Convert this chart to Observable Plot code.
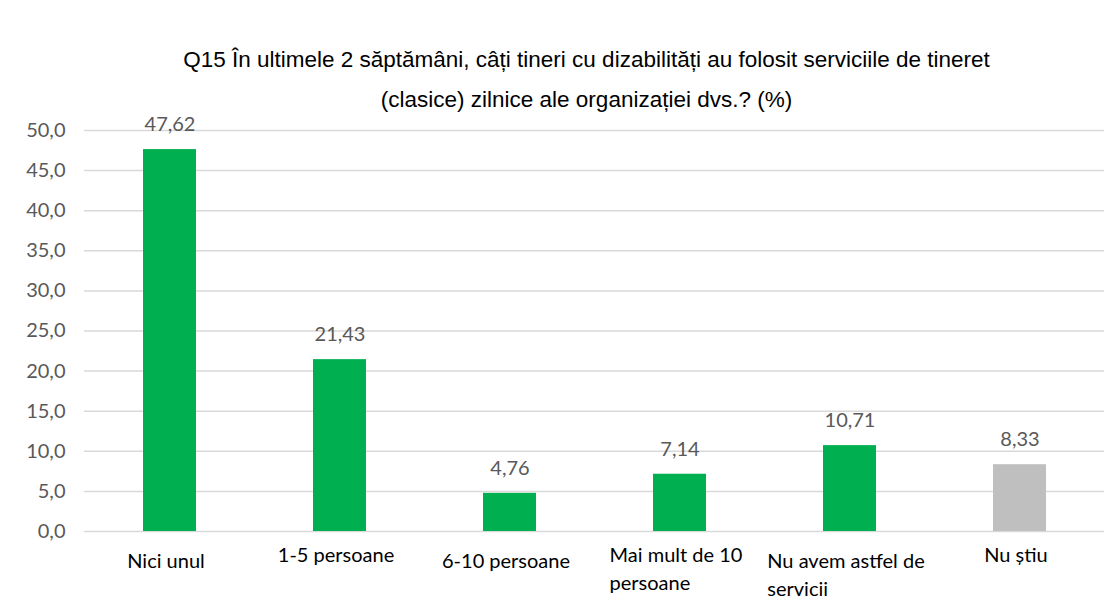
<!DOCTYPE html>
<html>
<head>
<meta charset="utf-8">
<script src="https://cdn.jsdelivr.net/npm/d3@7"></script>
<script src="https://cdn.jsdelivr.net/npm/@observablehq/plot@0.6"></script>
<style>
  html, body { margin: 0; padding: 0; background: #fff; }
  #wrap { width: 1117px; height: 603px; overflow: hidden; }
  #title { height: 110px; box-sizing: border-box; padding-top: 40px; padding-left: 56px;
    font-family: "Liberation Sans", Arial, sans-serif; font-size: 22.5px; color: #000;
    text-align: center; line-height: 40px; white-space: nowrap; }
  svg { display: block; overflow: visible; }
</style>
</head>
<body>
<div id="wrap">
  <div id="title">Q15 În ultimele 2 săptămâni, câți tineri cu dizabilități au folosit serviciile de tineret<br>(clasice) zilnice ale organizației dvs.? (%)</div>
  <div id="chart"></div>
</div>
<script>
const categories = ["Nici unul", "1-5 persoane", "6-10 persoane", "Mai mult de 10\npersoane", "Nu avem astfel de\nservicii", "Nu știu"];
const values = [47.62, 21.43, 4.76, 7.14, 10.71, 8.33];
const yTicks = [0, 5, 10, 15, 20, 25, 30, 35, 40, 45, 50];
const barColors = ["#00B050", "#00B050", "#00B050", "#00B050", "#00B050", "#BFBFBF"];

const data = categories.map((c, i) => ({category: c, value: values[i], color: barColors[i]}));
const fmt = (v, n) => v.toFixed(n).replace(".", ",");
const labelFont = "Lato, 'Open Sans', sans-serif";
const labelSize = 20;

const ctx = document.createElement("canvas").getContext("2d");
ctx.font = `${labelSize}px Lato`;
const maxLineWidth = s => Math.max(...s.split("\n").map(l => ctx.measureText(l).width));

const catMarks = categories.map((c, i) => Plot.text([c], {
  x: d => d, y: () => 0, text: d => d,
  textAnchor: "start", lineAnchor: "top", lineHeight: 1.4,
  dx: -maxLineWidth(c) / 2 - 4, dy: (i % 2 === 0 ? 17 : 11),
  fontSize: labelSize, fontFamily: labelFont, fill: "#000"
}));

const chart = Plot.plot({
  width: 1117,
  height: 493,
  marginLeft: 84,
  marginRight: 13,
  marginTop: 20,
  marginBottom: 72,
  style: {fontFamily: labelFont, background: "#fff"},
  x: {domain: categories, paddingInner: 0.69, paddingOuter: 0.345, axis: null},
  y: {domain: [0, 50], axis: null},
  marks: [
    Plot.gridY(yTicks, {stroke: "#D9D9D9", strokeOpacity: 1, strokeWidth: 1.5}),
    Plot.axisY(yTicks, {tickSize: 0, tickPadding: 19, fontSize: labelSize, fill: "#595959",
      label: null, tickFormat: d => fmt(d, 1)}),
    Plot.barY(data, {x: "category", y: "value", fill: "color"}),
    Plot.text(data, {x: "category", y: "value", text: d => fmt(d.value, 2), dy: -25,
      fontSize: labelSize, fill: "#595959"}),
    ...catMarks
  ]
});
document.getElementById("chart").appendChild(chart);
</script>
</body>
</html>
